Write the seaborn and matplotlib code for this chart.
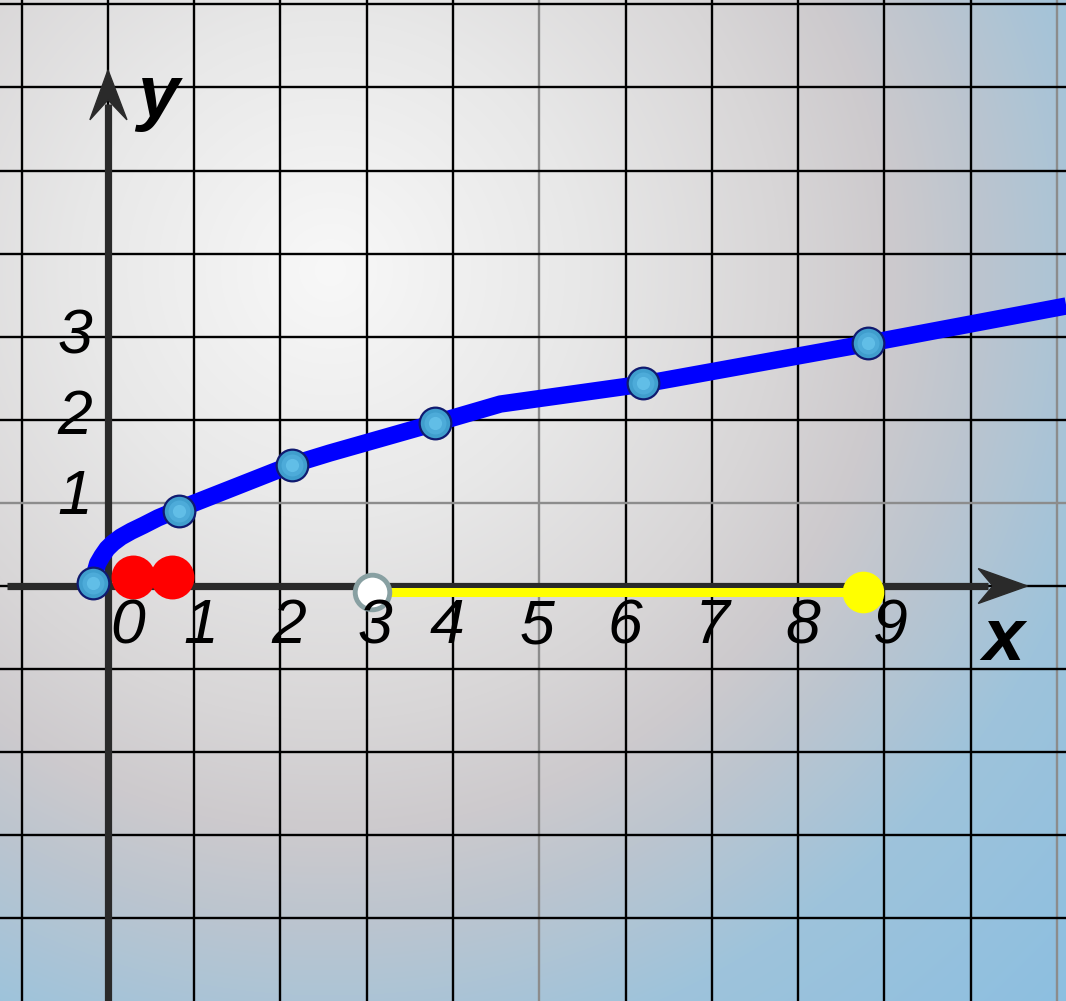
import numpy as np
import pandas as pd
import matplotlib
matplotlib.use("Agg")
import matplotlib.pyplot as plt
from matplotlib.patches import Polygon
import seaborn as sns

# curve y = sqrt(x) as drawn in the picture (grid units)
curve_x = [-0.17, -0.15, -0.12, -0.07, -0.01, 0.06, 0.15, 0.27, 0.41, 0.58, 0.81,
           2.13, 2.57, 3.79, 4.55, 6.20, 8.81, 11.11]
curve_y = [0.04, 0.16, 0.27, 0.36, 0.45, 0.52, 0.59, 0.66, 0.73, 0.82, 0.92,
           1.46, 1.60, 1.96, 2.19, 2.43, 2.92, 3.37]

# marked points on the curve
point_x = [-0.17, 0.82, 2.13, 3.79, 6.20, 8.81]
point_y = [0.04, 0.90, 1.46, 1.96, 2.44, 2.92]

# red dots near the origin
red_x = [0.29, 0.74]
red_y = [0.11, 0.11]

# yellow interval on the x axis (open at 3, closed at 9)
seg_x = [3.06, 8.75]
seg_y = [-0.075, -0.075]

# tick labels
x_labels = ["0", "1", "2", "3", "4", "5", "6", "7", "8", "9"]
x_label_pos = [0.23, 1.07, 2.09, 3.10, 3.93, 4.97, 5.99, 7.00, 8.06, 9.07]
y_labels = ["1", "2", "3"]
y_label_pos = [1.07, 2.03, 3.00]

sns.set_theme(style="white")
plt.rcParams['font.family'] = ['Liberation Sans', 'DejaVu Sans']

fig = plt.figure(figsize=(10.66, 10.01), dpi=100)
ax = fig.add_axes([0, 0, 1, 1])
xmin, xmax = -1.252, 11.107
ymin, ymax = -4.994, 7.052
ax.set_xlim(xmin, xmax)
ax.set_ylim(ymin, ymax)
ax.axis("off")

# radial background: light centre, grey middle, blue edges
W, H = 1066, 1001
px, py = np.meshgrid(np.arange(W), np.arange(H))
d = np.hypot(px - 330, py - 270)
stops = [0, 250, 450, 560, 650, 800, 1100]
reds = [248, 232, 216, 205, 188, 158, 136]
greens = [248, 232, 214, 202, 197, 195, 190]
blues = [248, 232, 215, 205, 207, 219, 226]
bg = np.dstack([np.interp(d, stops, reds), np.interp(d, stops, greens),
                np.interp(d, stops, blues)]) / 255.0
ax.imshow(bg, extent=[xmin, xmax, ymin, ymax], aspect="auto", zorder=0)

# grid
for gx in range(-1, 12):
    c = "#8c8c8c" if gx in (5, 11) else "black"
    ax.axvline(gx, color=c, lw=1.7, zorder=1)
for gy in range(-4, 8):
    c = "#8c8c8c" if gy == 1 else "black"
    ax.axhline(gy, color=c, lw=1.7, zorder=1)

# axes with notched arrow heads
axis_c = "#2a2a2a"
ax.plot([-1.17, 10.2], [0, 0], color=axis_c, lw=5.2, solid_capstyle="butt", zorder=2)
ax.plot([0, 0], [ymin, 5.8], color=axis_c, lw=5.2, solid_capstyle="butt", zorder=2)
ax.add_patch(Polygon([[10.66, 0], [10.09, 0.21], [10.26, 0], [10.09, -0.21]],
                     closed=True, color=axis_c, zorder=2))
ax.add_patch(Polygon([[0, 6.21], [-0.21, 5.61], [0, 5.85], [0.22, 5.61]],
                     closed=True, color=axis_c, zorder=2))

# yellow interval
seg = pd.DataFrame({"x": seg_x, "y": seg_y})
sns.lineplot(data=seg, x="x", y="y", color="#ffff00", lw=6.5, ax=ax, zorder=3)

# curve
curve = pd.DataFrame({"x": curve_x, "y": curve_y})
sns.lineplot(data=curve, x="x", y="y", sort=False, color="#0000ff", lw=12.5,
             ax=ax, zorder=4)
ax.lines[-1].set_solid_capstyle("butt")
ax.lines[-1].set_solid_joinstyle("round")

# red dots
sns.scatterplot(x=red_x, y=red_y, color="#ff0000", s=1000, linewidth=0, ax=ax, zorder=5)

# open and closed ends of the interval
sns.scatterplot(x=seg_x[:1], y=seg_y[:1], color="white", edgecolor="#88a0a2",
                s=620, linewidth=3.5, ax=ax, zorder=6)
sns.scatterplot(x=seg_x[1:], y=seg_y[1:], color="#ffff00", s=900, linewidth=0,
                ax=ax, zorder=6)

# marked points: shaded light-blue balls
sns.scatterplot(x=point_x, y=point_y, color="#409ecd", edgecolor="#101a70",
                s=520, linewidth=1.6, ax=ax, zorder=7)
sns.scatterplot(x=point_x, y=point_y, color="#56b4e2", s=250, linewidth=0,
                alpha=0.6, ax=ax, zorder=8)
sns.scatterplot(x=point_x, y=point_y, color="#6fcbf2", s=90, linewidth=0,
                alpha=0.6, ax=ax, zorder=8)

# tick labels
for lab, xp in zip(x_labels, x_label_pos):
    ax.text(xp, -0.49, lab, fontsize=45, style="italic", ha="center", va="center",
            color="black", zorder=9)
for lab, yp in zip(y_labels, y_label_pos):
    ax.text(-0.38, yp, lab, fontsize=45, style="italic", ha="center", va="center",
            color="black", zorder=9)

ax.text(0.58, 5.64, "y", fontsize=54, style="italic", fontweight="bold",
        ha="center", va="baseline", color="black", zorder=9)
ax.text(10.38, -0.89, "x", fontsize=54, style="italic", fontweight="bold",
        ha="center", va="baseline", color="black", zorder=9)

fig.savefig("out.png", dpi=100)
